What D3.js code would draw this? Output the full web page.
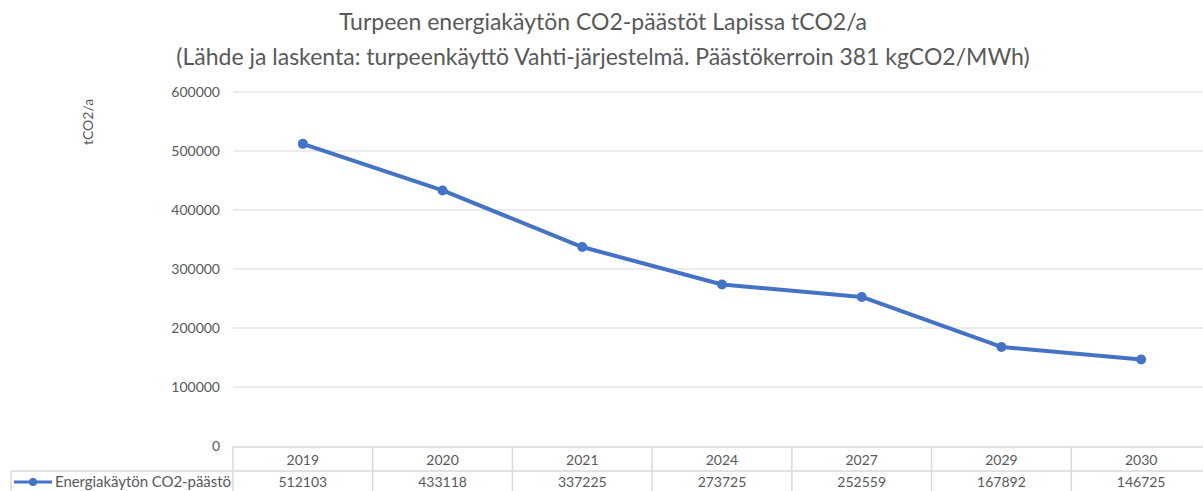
<!DOCTYPE html>
<html>
<head>
<meta charset="utf-8">
<script src="https://cdn.jsdelivr.net/npm/d3@7"></script>
<style>
  body { margin: 0; background: #fff; }
  text { font-family: Lato, "Open Sans", sans-serif; fill: #595959; }
</style>
</head>
<body>
<div id="chart"></div>
<script>
// data
const years = ["2019", "2020", "2021", "2024", "2027", "2029", "2030"];
const emissions = [512103, 433118, 337225, 273725, 252559, 167892, 146725];
const yTicks = [0, 100000, 200000, 300000, 400000, 500000, 600000];
const seriesName = "Energiakäytön CO2-päästö";
const titleLines = [
  "Turpeen energiakäytön CO2-päästöt Lapissa tCO2/a",
  "(Lähde ja laskenta: turpeenkäyttö Vahti-järjestelmä. Päästökerroin 381 kgCO2/MWh)"
];

const W = 1203, H = 491;
const m = { left: 233, right: 1211, top: 92, bottom: 446 };
const blue = "#4472C4", grid = "#d9d9d9";

const svg = d3.select("#chart").append("svg")
  .attr("width", W).attr("height", H);

// title
svg.selectAll("text.title")
  .data(titleLines)
  .join("text")
  .attr("class", "title")
  .attr("x", 603)
  .attr("y", (d, i) => 30 + i * 35)
  .attr("text-anchor", "middle")
  .style("font-size", "23px")
  .text(d => d);

// scales
const x = d3.scaleBand().domain(years).range([m.left, m.right]);
const y = d3.scaleLinear().domain([0, 600000]).range([m.bottom, m.top]);

// gridlines
svg.append("g")
  .selectAll("line")
  .data(yTicks.slice(1))
  .join("line")
  .attr("x1", m.left).attr("x2", m.right)
  .attr("y1", d => y(d)).attr("y2", d => y(d))
  .attr("stroke", grid).attr("stroke-width", 1);

// y axis labels
svg.append("g")
  .selectAll("text")
  .data(yTicks)
  .join("text")
  .attr("x", 220)
  .attr("y", d => y(d) + 5)
  .attr("text-anchor", "end")
  .style("font-size", "14px")
  .text(d => d);

// y axis title
svg.append("text")
  .attr("transform", "translate(93,122) rotate(-90)")
  .attr("text-anchor", "middle")
  .style("font-size", "14px")
  .text("tCO2/a");

// data table
const rowMid = 471;
const tbl = svg.append("g").attr("stroke", grid).attr("stroke-width", 1.5);
tbl.append("line").attr("x1", m.left).attr("x2", m.right).attr("y1", m.bottom + 1).attr("y2", m.bottom + 1);
tbl.append("line").attr("x1", 11).attr("x2", m.right).attr("y1", rowMid).attr("y2", rowMid);
tbl.append("line").attr("x1", 11).attr("x2", 11).attr("y1", rowMid).attr("y2", H);
tbl.selectAll("line.col")
  .data(years)
  .join("line")
  .attr("class", "col")
  .attr("x1", d => x(d)).attr("x2", d => x(d))
  .attr("y1", m.bottom + 1).attr("y2", H);

svg.append("g")
  .selectAll("text")
  .data(years)
  .join("text")
  .attr("x", d => x(d) + x.bandwidth() / 2)
  .attr("y", 465)
  .attr("text-anchor", "middle")
  .style("font-size", "14px")
  .text(d => d);

svg.append("g")
  .selectAll("text")
  .data(emissions)
  .join("text")
  .attr("x", (d, i) => x(years[i]) + x.bandwidth() / 2)
  .attr("y", 487)
  .attr("text-anchor", "middle")
  .style("font-size", "14px")
  .text(d => d);

// legend key in table
svg.append("line")
  .attr("x1", 14).attr("x2", 52).attr("y1", 482).attr("y2", 482)
  .attr("stroke", blue).attr("stroke-width", 3);
svg.append("circle").attr("cx", 33).attr("cy", 482).attr("r", 4).attr("fill", blue);
svg.append("text")
  .attr("x", 55).attr("y", 487)
  .style("font-size", "15px")
  .attr("textLength", 176)
  .text(seriesName);

// line
const line = d3.line()
  .x((d, i) => x(years[i]) + x.bandwidth() / 2)
  .y(d => y(d));

svg.append("path")
  .datum(emissions)
  .attr("d", line)
  .attr("fill", "none")
  .attr("stroke", blue)
  .attr("stroke-width", 4)
  .attr("stroke-linejoin", "round");

svg.append("g")
  .selectAll("circle")
  .data(emissions)
  .join("circle")
  .attr("cx", (d, i) => x(years[i]) + x.bandwidth() / 2)
  .attr("cy", d => y(d))
  .attr("r", 5)
  .attr("fill", blue);
</script>
</body>
</html>
